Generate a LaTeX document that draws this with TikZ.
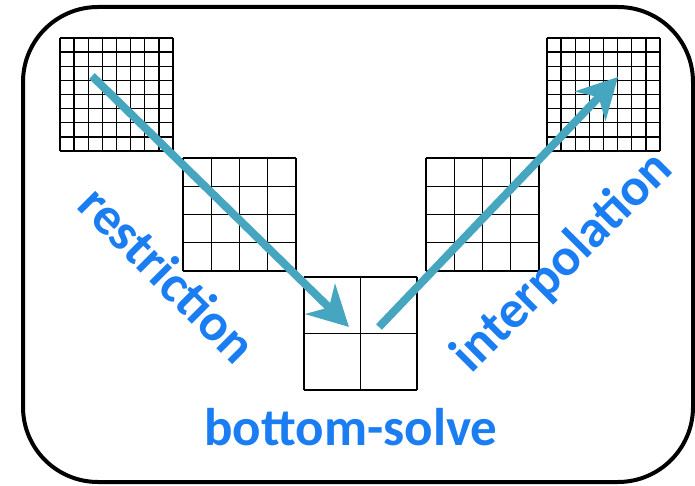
\documentclass[tikz,border=0pt]{standalone}
\usepackage{fontspec}
\setmainfont{Carlito}
\usepackage{tikz}
\usetikzlibrary{arrows.meta,calc}
\definecolor{flow}{HTML}{46A6BF}
\definecolor{lbl}{HTML}{1A7DF2}
\tikzset{
  meshline/.style={draw=black,line width=1.3pt},
  vcycle/.style={draw=flow,line width=8pt,-{Stealth[length=40pt,width=42pt,inset=12pt]}},
  phase/.style={text=lbl,font=\fontsize{53}{63}\selectfont\bfseries,inner sep=0pt}
}
% lower-left corner, cells per side
\newcommand{\mesh}[2]{%
  \begin{scope}[shift={#1},x=113pt/#2,y=113pt/#2]
    \draw[meshline,step=1] (0,0) grid (#2,#2);
  \end{scope}}

\begin{document}
\begin{tikzpicture}[x=1pt,y=1pt]
\useasboundingbox (0,0) rectangle (695,485);
\draw[line width=4pt,rounded corners=75pt] (23,3) rectangle (693,478);

% the five levels of the V-cycle
\mesh{(60,334)}{8}
\mesh{(183,214)}{4}
\mesh{(304,95)}{2}
\mesh{(426,214)}{4}
\mesh{(547,334)}{8}

\coordinate (fine-l) at (92,409);
\coordinate (coarse-l) at (349,158);
\coordinate (coarse-r) at (379,158);
\coordinate (fine-r) at (618,408);
\draw[vcycle] (fine-l) -- (coarse-l);
\draw[vcycle] (coarse-r) -- (fine-r);

\node[phase,rotate=-45] (restr) at (168,211) {restriction};
\node[phase,rotate=45] (interp) at (563,222) {interpolation};
\node[phase,anchor=base] (solve) at (351,40) {bottom-solve};
\end{tikzpicture}
\end{document}
